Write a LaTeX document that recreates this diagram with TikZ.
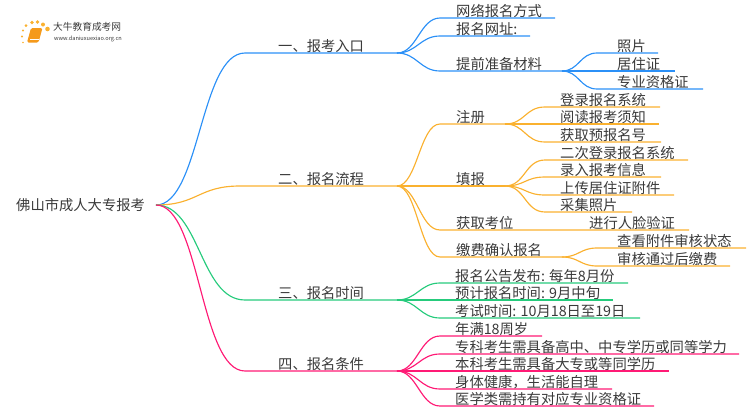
\documentclass[tikz,border=0pt]{standalone}
\usepackage{fontspec}
\setmainfont{Noto Sans CJK SC}
\definecolor{wireblue}{HTML}{2B90F7}
\definecolor{wireorange}{HTML}{FAB12F}
\definecolor{wiregreen}{HTML}{26CB7C}
\definecolor{wirepink}{HTML}{FF1A75}
\definecolor{labelgray}{HTML}{3A3A3A}
\definecolor{bookorange}{HTML}{F59A1B}
\tikzset{
  wire/.style={line width=1.15pt},
  lab/.style={anchor=west, inner sep=0pt, yshift=7pt, text=labelgray, font=\fontsize{14.3}{14}\selectfont},
}
\begin{document}
\begin{tikzpicture}[x=1pt,y=-1pt]
  \useasboundingbox (0,0) rectangle (750,410);

  \shade[left color=white, middle color=black!22, right color=white] (45,32.6) rectangle (134,33.4);
  \foreach \dx/\dy/\dr in {23/42.5/0.9,22/36.5/1.1,23/30.5/1.2,26/25.5/1.5,32/22.5/1.8,37.5/22/1.9,43/24.5/2,47.5/29/2.3} {
    \fill[wireorange] (\dx,\dy) circle (\dr pt);
  }
  \fill[rounded corners=1.5pt, color=bookorange] (31,28) -- (42.5,28) -- (38.5,42.5) -- (27,42.5) -- cycle;
  \draw[white, line width=0.5pt] (30,39.5) -- (38.5,39.5);
  \node[anchor=west, inner sep=0pt, text=labelgray, font=\fontsize{9.7}{10}\selectfont] (logoname) at (53,27) {大牛教育成考网};
  \node[anchor=west, inner sep=0pt, text=labelgray, font=\fontsize{5.6}{6}\selectfont] (logosite) at (54,39) {www.daniuxuexiao.org.cn};

  \node[lab, yshift=-7pt] (root) at (16,205) {佛山市成人大专报考};
  \coordinate (rootout) at (156,205);

  \coordinate (entryin) at (245,53);
  \coordinate (entryhub) at (397,53);
  \coordinate (flowin) at (240,186);
  \coordinate (flowhub) at (397,186);
  \coordinate (timein) at (245,300);
  \coordinate (timehub) at (397,300);
  \coordinate (condin) at (245,371);
  \coordinate (condhub) at (397,371);
  \node[lab] (entry) at (278,53) {一、报考入口};
  \node[lab] (flow) at (278,186) {二、报名流程};
  \node[lab] (time) at (278,300) {三、报名时间};
  \node[lab] (cond) at (278,371) {四、报名条件};
  \draw[wire, wireblue] (rootout) .. controls +(44,0) and +(-45,0) .. (entryin) -- (entryhub);
  \draw[wire, wireorange] (rootout) .. controls +(42,0) and +(-42,0) .. (flowin) -- (flowhub);
  \draw[wire, wiregreen] (rootout) .. controls +(44,0) and +(-45,0) .. (timein) -- (timehub);
  \draw[wire, wirepink] (rootout) .. controls +(44,0) and +(-45,0) .. (condin) -- (condhub);

  \foreach \nm/\ypos/\xend/\txt in {way/18/555/网络报名方式, site/36/530/{报名网址:}, prep/71/562/提前准备材料} {
    \coordinate (\nm in) at (440,\ypos);
    \coordinate (\nm end) at (\xend,\ypos);
    \node[lab] (\nm) at (456,\ypos) {\txt};
    \draw[wire, wireblue] (entryhub) .. controls +(20,0) and +(-20,0) .. (\nm in) -- (\nm end);
  }
  \foreach \nm/\ypos/\xend/\txt in {photo/53/658/照片, permit/71/675/居住证, cert/89/703/专业资格证} {
    \coordinate (\nm in) at (597,\ypos);
    \coordinate (\nm end) at (\xend,\ypos);
    \node[lab] (\nm) at (617,\ypos) {\txt};
    \draw[wire, wireblue] (prepend) .. controls +(17,0) and +(-17,0) .. (\nm in) -- (\nm end);
  }

  \foreach \nm/\ypos/\xend/\txt in {reg/124/505/注册, fill/186/505/填报, seat/230/689/获取考位, pay/257/562/缴费确认报名} {
    \coordinate (\nm in) at (440,\ypos);
    \coordinate (\nm end) at (\xend,\ypos);
    \node[lab] (\nm) at (456,\ypos) {\txt};
    \draw[wire, wireorange] (flowhub) .. controls +(20,0) and +(-20,0) .. (\nm in) -- (\nm end);
  }
  \foreach \nm/\ypos/\xend/\txt in {login/107/660/登录报名系统, notice/124/659/阅读报考须知, prenum/142/661/获取预报名号} {
    \coordinate (\nm in) at (545,\ypos);
    \coordinate (\nm end) at (\xend,\ypos);
    \node[lab] (\nm) at (560,\ypos) {\txt};
    \draw[wire, wireorange] (regend) .. controls +(20,0) and +(-20,0) .. (\nm in) -- (\nm end);
  }
  \foreach \nm/\ypos/\xend/\txt in {relogin/160/688/二次登录报名系统, input/177/661/录入报考信息, upload/195/674/上传居住证附件, shot/212/632/采集照片} {
    \coordinate (\nm in) at (545,\ypos);
    \coordinate (\nm end) at (\xend,\ypos);
    \node[lab] (\nm) at (560,\ypos) {\txt};
    \draw[wire, wireorange] (fillend) .. controls +(20,0) and +(-20,0) .. (\nm in) -- (\nm end);
  }
  \node[lab] (face) at (589,230) {进行人脸验证};
  \foreach \nm/\ypos/\xend/\txt in {check/248/746/查看附件审核状态, paid/266/730/审核通过后缴费} {
    \coordinate (\nm in) at (597,\ypos);
    \coordinate (\nm end) at (\xend,\ypos);
    \node[lab] (\nm) at (617,\ypos) {\txt};
    \draw[wire, wireorange] (payend) .. controls +(17,0) and +(-17,0) .. (\nm in) -- (\nm end);
  }

  \foreach \nm/\ypos/\xend/\txt in {post/283/628/{报名公告发布: 每年8月份}, est/300/613/{预计报名时间: 9月中旬}, exam/318/640/{考试时间: 10月18日至19日}} {
    \coordinate (\nm in) at (440,\ypos);
    \coordinate (\nm end) at (\xend,\ypos);
    \node[lab] (\nm) at (455,\ypos) {\txt};
    \draw[wire, wiregreen] (timehub) .. controls +(20,0) and +(-20,0) .. (\nm in) -- (\nm end);
  }

  \foreach \nm/\ypos/\xend/\txt in {age/336/542/年满18周岁, junior/354/739/专科考生需具备高中、中专学历或同等学力, senior/371/669/本科考生需具备大专或等同学历, health/389/612/身体健康，生活能自理, med/406/654/医学类需持有对应专业资格证} {
    \coordinate (\nm in) at (440,\ypos);
    \coordinate (\nm end) at (\xend,\ypos);
    \node[lab] (\nm) at (455,\ypos) {\txt};
    \draw[wire, wirepink] (condhub) .. controls +(20,0) and +(-20,0) .. (\nm in) -- (\nm end);
  }
\end{tikzpicture}
\end{document}
